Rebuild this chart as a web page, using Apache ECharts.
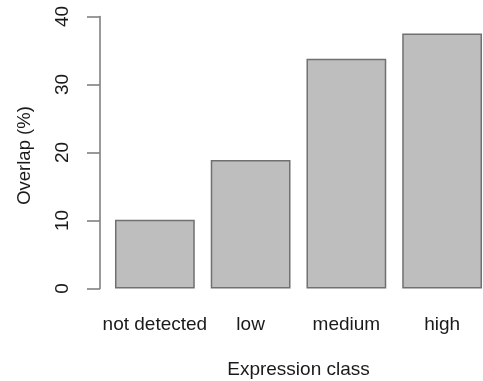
<!DOCTYPE html>
<html>
<head>
<meta charset="utf-8">
<style>
  html, body { margin: 0; padding: 0; background: #fff; overflow: hidden; }
  #chart { width: 483px; height: 381px; }
</style>
<script src="https://cdn.jsdelivr.net/npm/echarts@6/dist/echarts.min.js"></script>
</head>
<body>
<div id="chart"></div>
<script>
// Overlap per expression class
const categories = ['not detected', 'low', 'medium', 'high'];
const overlapPct = [10.1, 18.9, 33.8, 37.5];
const yTicks = [0, 10, 20, 30, 40];

const font = 'Liberation Sans, Arial, Helvetica, sans-serif';
const textColor = '#1a1a1a';
const axisColor = '#808080';

const chart = echarts.init(document.getElementById('chart'), null, { renderer: 'canvas' });
chart.setOption({
  animation: false,
  backgroundColor: '#ffffff',
  // plot region runs a few pixels past the right edge of the canvas
  grid: {
    left: 107, width: 383, top: 16.5, height: 272,
    containLabel: false, outerBoundsMode: 'none'
  },
  xAxis: {
    type: 'category',
    data: categories,
    name: 'Expression class',
    nameLocation: 'middle',
    nameGap: 72,
    nameTextStyle: { color: textColor, fontSize: 19, fontFamily: font },
    axisLine: { show: false },
    axisTick: { show: false },
    axisLabel: { color: textColor, fontSize: 19, fontFamily: font, margin: 27, interval: 0 },
    splitLine: { show: false }
  },
  yAxis: {
    type: 'value',
    min: yTicks[0],
    max: yTicks[yTicks.length - 1],
    interval: yTicks[1] - yTicks[0],
    offset: 7,
    name: 'Overlap (%)',
    nameLocation: 'middle',
    nameRotate: 90,
    nameGap: 66,
    nameTextStyle: { color: textColor, fontSize: 18.5, fontFamily: font, padding: [0, 6, 0, 0] },
    axisLine: { show: true, lineStyle: { color: axisColor, width: 1.6 } },
    axisTick: { show: true, length: 13, lineStyle: { color: axisColor, width: 1.6 } },
    axisLabel: { color: textColor, fontSize: 19, fontFamily: font, rotate: 90, margin: 28 },
    splitLine: { show: false }
  },
  series: [{
    type: 'bar',
    data: overlapPct,
    barCategoryGap: '16.67%',
    itemStyle: { color: '#bebebe', borderColor: '#707070', borderWidth: 1.5 },
    silent: true
  }]
});
</script>
</body>
</html>
